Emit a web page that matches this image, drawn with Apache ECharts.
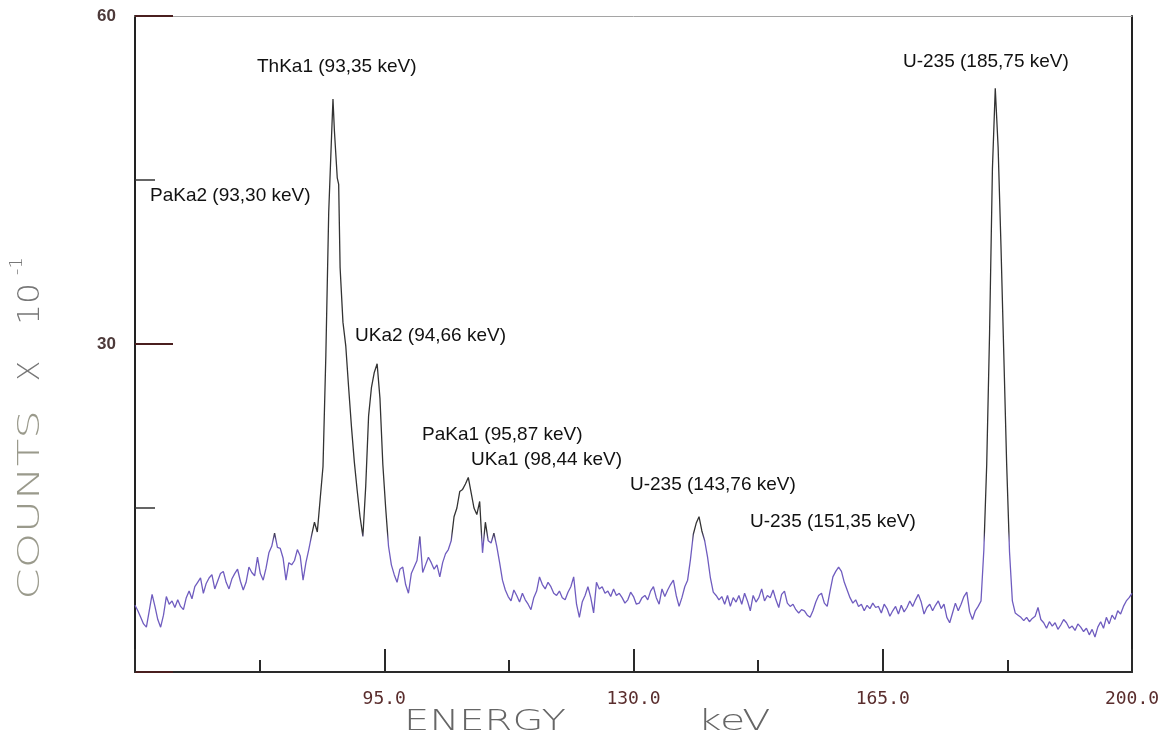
<!DOCTYPE html>
<html lang="en">
<head>
<meta charset="UTF-8">
<title>Gamma spectrum</title>
<script src="https://cdn.jsdelivr.net/npm/echarts@6/dist/echarts.min.js"></script>
<style>
html, body { margin: 0; background: #fff; }
#chart { width: 1162px; height: 738px; }
</style>
</head>
<body>
<div id="chart"></div>
<script>
// [energy keV, counts x 10^-1]
var spectrum = [
	[60.0, 6.1], [60.4, 5.6], [60.8, 5.0], [61.2, 4.4], [61.6, 4.1], [62.0, 5.6], [62.4, 7.1], [62.8, 6.0], [63.2, 4.8], [63.6, 4.1],
	[64.0, 5.2], [64.4, 6.9], [64.8, 6.2], [65.2, 6.5], [65.6, 5.9], [66.0, 6.6], [66.4, 6.0], [66.8, 5.7], [67.2, 6.8], [67.6, 7.4],
	[68.0, 6.7], [68.4, 7.8], [68.8, 8.2], [69.2, 8.6], [69.6, 7.2], [70.0, 8.1], [70.4, 8.6], [70.8, 8.9], [71.2, 7.6], [71.6, 8.3],
	[72.0, 9.0], [72.4, 9.2], [72.8, 8.2], [73.2, 7.6], [73.6, 8.5], [74.0, 9.0], [74.4, 9.4], [74.8, 8.3], [75.2, 7.5], [75.6, 8.2],
	[76.0, 9.6], [76.4, 9.1], [76.8, 8.8], [77.2, 10.5], [77.6, 9.0], [78.0, 8.4], [78.4, 9.5], [78.8, 10.9], [79.2, 11.5], [79.6, 12.7],
	[80.0, 11.4], [80.4, 11.3], [80.8, 10.4], [81.2, 8.4], [81.6, 10.0], [82.0, 9.8], [82.4, 10.2], [82.8, 11.2], [83.2, 10.6], [83.6, 8.4],
	[84.0, 10.0], [84.4, 11.2], [84.8, 12.5], [85.2, 13.7], [85.6, 12.8], [86.0, 15.8], [86.4, 18.8], [86.8, 29], [87.2, 42], [87.6, 49],
	[87.8, 52.4], [88.0, 49.5], [88.4, 45.2], [88.6, 44.6], [88.8, 37], [89.2, 32], [89.6, 29.8], [90.0, 26], [90.4, 22.4], [90.8, 19.2],
	[91.2, 16.6], [91.6, 14.2], [92.0, 12.4], [92.4, 17], [92.8, 23.4], [93.2, 26], [93.6, 27.4], [94.0, 28.2], [94.4, 25], [94.8, 19],
	[95.2, 15], [95.6, 11.5], [96.0, 9.8], [96.4, 8.9], [96.8, 8.2], [97.2, 9.4], [97.6, 9.6], [98.0, 8.0], [98.4, 7.2], [98.8, 9.0],
	[99.2, 9.6], [99.6, 10.2], [100.0, 12.4], [100.4, 9.1], [100.8, 9.8], [101.2, 10.5], [101.6, 10.0], [102.0, 9.4], [102.4, 9.8], [102.8, 8.7],
	[103.2, 10.0], [103.6, 10.8], [104.0, 11.2], [104.4, 12.0], [104.8, 14.2], [105.2, 15.0], [105.6, 16.5], [106.0, 16.7], [106.4, 17.2], [106.8, 17.8],
	[107.2, 16.4], [107.6, 15.0], [108.0, 14.4], [108.4, 15.6], [108.8, 10.9], [109.2, 13.7], [109.6, 12.0], [110.0, 11.8], [110.4, 12.7], [110.8, 11.5],
	[111.2, 10.0], [111.6, 8.4], [112.0, 7.5], [112.4, 6.9], [112.8, 6.5], [113.2, 7.5], [113.6, 7.0], [114.0, 6.4], [114.4, 7.2], [114.8, 6.6],
	[115.2, 6.2], [115.6, 5.7], [116.0, 6.8], [116.4, 7.4], [116.8, 8.7], [117.2, 8.0], [117.6, 7.6], [118.0, 8.2], [118.4, 7.8], [118.8, 7.2],
	[119.2, 7.0], [119.6, 7.4], [120.0, 6.8], [120.4, 6.6], [120.8, 7.3], [121.2, 7.8], [121.6, 8.7], [122.0, 6.2], [122.4, 5.0], [122.8, 6.4],
	[123.2, 7.0], [123.6, 7.8], [124.0, 6.8], [124.4, 5.4], [124.8, 8.2], [125.2, 7.6], [125.6, 7.8], [126.0, 7.2], [126.4, 7.4], [126.8, 6.9],
	[127.2, 7.6], [127.6, 7.0], [128.0, 7.2], [128.4, 6.8], [128.8, 6.3], [129.2, 6.6], [129.6, 7.3], [130.0, 6.9], [130.4, 6.2], [130.8, 6.3],
	[131.2, 6.8], [131.6, 7.0], [132.0, 6.6], [132.4, 7.4], [132.8, 7.8], [133.2, 6.8], [133.6, 6.2], [134.0, 7.6], [134.4, 6.9], [134.8, 7.5],
	[135.2, 8.0], [135.6, 8.4], [136.0, 7.0], [136.4, 6.0], [136.8, 6.8], [137.2, 7.8], [137.6, 8.4], [138.0, 10.3], [138.4, 12.6], [138.8, 13.6],
	[139.2, 14.2], [139.6, 12.9], [140.0, 12.0], [140.4, 10.5], [140.8, 8.6], [141.2, 7.3], [141.6, 7.0], [142.0, 6.6], [142.4, 6.9], [142.8, 6.2],
	[143.2, 7.0], [143.6, 6.0], [144.0, 6.8], [144.4, 6.4], [144.8, 7.0], [145.2, 6.2], [145.6, 7.2], [146.0, 6.5], [146.4, 5.6], [146.8, 7.0],
	[147.2, 6.4], [147.6, 6.8], [148.0, 7.6], [148.4, 6.5], [148.8, 7.0], [149.2, 6.8], [149.6, 7.5], [150.0, 6.6], [150.4, 5.9], [150.8, 7.1],
	[151.2, 7.4], [151.6, 6.3], [152.0, 6.0], [152.4, 6.2], [152.8, 5.7], [153.2, 5.4], [153.6, 5.7], [154.0, 5.6], [154.4, 5.2], [154.8, 5.0],
	[155.2, 5.6], [155.6, 6.4], [156.0, 7.0], [156.4, 7.2], [156.8, 6.3], [157.2, 6.0], [157.6, 7.4], [158.0, 8.7], [158.4, 9.2], [158.8, 9.6],
	[159.2, 9.2], [159.6, 8.2], [160.0, 7.5], [160.4, 6.8], [160.8, 6.3], [161.2, 6.6], [161.6, 6.0], [162.0, 6.2], [162.4, 5.6], [162.8, 6.1],
	[163.2, 5.8], [163.6, 6.3], [164.0, 5.9], [164.4, 6.0], [164.8, 5.4], [165.2, 6.2], [165.6, 5.8], [166.0, 5.1], [166.4, 5.6], [166.8, 6.0],
	[167.2, 5.3], [167.6, 6.1], [168.0, 5.5], [168.4, 5.9], [168.8, 6.5], [169.2, 6.0], [169.6, 6.6], [170.0, 7.1], [170.4, 6.4], [170.8, 5.3],
	[171.2, 5.9], [171.6, 6.2], [172.0, 5.6], [172.4, 6.1], [172.8, 6.5], [173.2, 5.8], [173.6, 6.2], [174.0, 5.0], [174.4, 4.5], [174.8, 5.4],
	[175.2, 6.3], [175.6, 5.6], [176.0, 6.2], [176.4, 6.9], [176.8, 7.3], [177.2, 5.5], [177.6, 4.8], [178.0, 5.6], [178.4, 6.0], [178.8, 6.5],
	[179.2, 11.2], [179.6, 19], [180.0, 31], [180.4, 46], [180.8, 53.4], [181.2, 48], [181.6, 39], [182.0, 29], [182.4, 19], [182.8, 11],
	[183.2, 6.5], [183.6, 5.4], [184.0, 5.2], [184.4, 5.0], [184.8, 4.7], [185.2, 5.0], [185.6, 4.6], [186.0, 4.9], [186.4, 5.1], [186.8, 5.9],
	[187.2, 4.8], [187.6, 4.5], [188.0, 4.0], [188.4, 4.6], [188.8, 4.2], [189.2, 4.5], [189.6, 3.9], [190.0, 4.3], [190.4, 4.8], [190.8, 4.5],
	[191.2, 4.0], [191.6, 4.2], [192.0, 3.8], [192.4, 4.4], [192.8, 4.1], [193.2, 3.7], [193.6, 4.0], [194.0, 3.4], [194.4, 3.9], [194.8, 3.2],
	[195.2, 4.1], [195.6, 4.6], [196.0, 4.0], [196.4, 5.0], [196.8, 4.4], [197.2, 5.2], [197.6, 4.8], [198.0, 5.6], [198.4, 5.3], [198.8, 6.0],
	[199.2, 6.5], [199.6, 6.8], [200.0, 7.2]
];

var peakNames = [
	'ThKa1 (93,35 keV)', 'PaKa2 (93,30 keV)', 'UKa2 (94,66 keV)', 'PaKa1 (95,87 keV)',
	'UKa1 (98,44 keV)', 'U-235 (143,76 keV)', 'U-235 (151,35 keV)', 'U-235 (185,75 keV)'
];
var xLabelValues = [95, 130, 165, 200];
var yLabelValues = [30, 60];

// where each peak note sits on the page (left edge, middle)
var notePos = [[257, 67], [150, 196], [355, 336], [422, 435], [471, 460], [630, 485], [750, 522], [903, 62]];

var chart = echarts.init(document.getElementById('chart'));

var graphics = peakNames.map(function (name, i) {
	return {
		type: 'text',
		x: notePos[i][0],
		y: notePos[i][1],
		style: {
			text: name,
			font: '19px "Liberation Sans"',
			fill: '#111',
			textAlign: 'left',
			textVerticalAlign: 'middle'
		}
	};
});

function title(text, x, y, size, scale, rot, color) {
	return {
		type: 'text',
		x: x,
		y: y,
		rotation: rot,
		scaleX: scale,
		style: {
			text: text,
			font: '300 ' + size + 'px "DejaVu Sans"',
			fill: color,
			textAlign: 'center',
			textVerticalAlign: 'middle'
		}
	};
}

graphics.push(title('ENERGY', 485, 722, 29, 1.38, 0, '#666'));
graphics.push(title('keV', 734, 722, 29, 1.42, 0, '#666'));
graphics.push(title('COUNTS', 31, 505, 30, 1.5, Math.PI / 2, '#9a9a8c'));
graphics.push(title('X', 31, 371, 30, 1.0, Math.PI / 2, '#777'));
graphics.push(title('10', 31, 304, 30, 1.1, Math.PI / 2, '#777'));
graphics.push(title('-1', 17, 266, 18, 1.0, Math.PI / 2, '#777'));

// dark trace for the tall peaks, purple for the low background (page-space gradient)
var traceColor = new echarts.graphic.LinearGradient(0, 0, 0, 738, [
	{ offset: 0, color: '#333' },
	{ offset: 0.72, color: '#333' },
	{ offset: 0.735, color: '#6f5cbf' },
	{ offset: 1, color: '#6f5cbf' }
], true);

var option = {
	animation: false,
	backgroundColor: '#fff',
	grid: { left: 135, right: 30, top: 16, bottom: 66, outerBoundsMode: 'none' },
	xAxis: [{
		type: 'value',
		min: 60,
		max: 200,
		interval: 35,
		position: 'bottom',
		axisLine: { show: true, onZero: false, lineStyle: { color: '#2a2a2a', width: 2 } },
		axisTick: { show: true, inside: true, length: 23, lineStyle: { color: '#2a2a2a', width: 2 } },
		minorTick: { show: true, splitNumber: 2, length: 12, lineStyle: { color: '#2a2a2a', width: 2 } },
		axisLabel: {
			showMinLabel: true,
			showMaxLabel: true,
			formatter: function (v) { return xLabelValues.indexOf(v) >= 0 ? v.toFixed(1) : ''; },
			fontFamily: 'DejaVu Sans Mono',
			fontSize: 18,
			color: '#5a2d2d',
			margin: 18
		},
		splitLine: { show: false }
	}, {
		type: 'value',
		min: 60,
		max: 200,
		position: 'top',
		axisLine: { show: true, onZero: false, lineStyle: { color: '#a5a5a5', width: 1 } },
		axisTick: { show: false },
		axisLabel: { show: false },
		splitLine: { show: false }
	}],
	yAxis: [{
		type: 'value',
		min: 0,
		max: 60,
		interval: 30,
		axisLine: { show: true, onZero: false, lineStyle: { color: '#222', width: 2 } },
		axisTick: { show: true, inside: true, length: 38, lineStyle: { color: '#4a1f1f', width: 2 } },
		minorTick: { show: true, splitNumber: 2, length: 20, lineStyle: { color: '#333', width: 1.5 } },
		axisLabel: {
			showMinLabel: true,
			showMaxLabel: true,
			formatter: function (v) { return yLabelValues.indexOf(v) >= 0 ? String(v) : ''; },
			fontFamily: 'Liberation Sans',
			fontWeight: 'bold',
			fontSize: 17,
			color: '#4d3a3a',
			margin: 19
		},
		splitLine: { show: false }
	}, {
		type: 'value',
		min: 0,
		max: 60,
		position: 'right',
		axisLine: { show: true, onZero: false, lineStyle: { color: '#222', width: 2 } },
		axisTick: { show: false },
		axisLabel: { show: false },
		splitLine: { show: false }
	}],
	series: [{
		type: 'line',
		xAxisIndex: 0,
		yAxisIndex: 0,
		data: spectrum,
		showSymbol: false,
		symbol: 'none',
		lineStyle: { width: 1.3, color: traceColor }
	}],
	graphic: graphics
};

chart.setOption(option);
</script>
</body>
</html>
